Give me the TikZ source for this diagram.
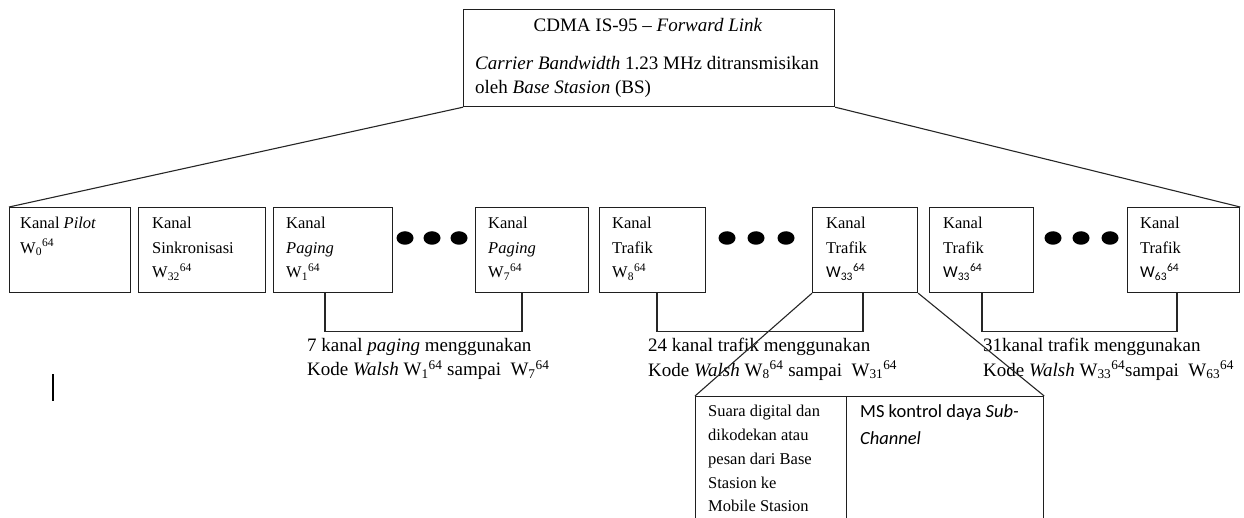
\documentclass[tikz,border=0pt]{standalone}
\usepackage{fontspec}
\setmainfont{Liberation Serif}
\newfontfamily\calib{Carlito}
\usetikzlibrary{shapes.geometric}
\newcommand{\Wc}[2]{W\textsubscript{#1}\textsuperscript{#2}}
\tikzset{
  box/.style={draw=black!88, line width=1.2pt, inner sep=0pt, anchor=north west},
  conn/.style={draw=black!85, line width=1.1pt},
  boxtxt/.style={inner sep=0pt, anchor=north west, align=left, font=\fontsize{16.5}{24.5}\selectfont},
  bigtxt/.style={inner sep=0pt, align=left, font=\fontsize{19}{24.5}\selectfont},
  subtxt/.style={inner sep=0pt, anchor=north west, align=left, font=\fontsize{16.5}{23.8}\selectfont},
  dotn/.style={ellipse, fill=black, draw=none, inner sep=0pt, minimum width=17pt, minimum height=13.5pt},
}
\begin{document}
\begin{tikzpicture}[x=1pt,y=-1pt]
\useasboundingbox (0,0) rectangle (1244,518);
\clip (0,0) rectangle (1244,518);

% head box
\node[box, minimum width=371pt, minimum height=97pt] (top) at (463,9) {};
\node[bigtxt, anchor=base] (toptitle) at (648,32) {CDMA IS-95 -- \textit{Forward Link}};
\node[bigtxt, anchor=north west] (toptext) at (475,56) {\textit{Carrier Bandwidth} 1.23 MHz ditransmisikan\\oleh \textit{Base Stasion} (BS)};

% channel boxes
\node[box, minimum width=121pt, minimum height=85pt] (p1)  at (9,207) {};
\node[box, minimum width=127pt, minimum height=85pt] (sk)  at (138,207) {};
\node[box, minimum width=119pt, minimum height=85pt] (pg1) at (273,207) {};
\node[box, minimum width=113pt, minimum height=85pt] (pg7) at (475,207) {};
\node[box, minimum width=106pt, minimum height=85pt] (t1)  at (599,207) {};
\node[box, minimum width=105pt, minimum height=85pt] (t2)  at (812,207) {};
\node[box, minimum width=104pt, minimum height=85pt] (t3)  at (929,207) {};
\node[box, minimum width=112pt, minimum height=85pt] (t4)  at (1127,207) {};

\node[boxtxt] (p1t)  at (20,217)  {Kanal \textit{Pilot}\\\Wc{0}{64}};
\node[boxtxt] (skt)  at (152,217) {Kanal\\Sinkronisasi\\\Wc{32}{64}};
\node[boxtxt] (pg1t) at (286,217) {Kanal\\\textit{Paging}\\\Wc{1}{64}};
\node[boxtxt] (pg7t) at (488,217) {Kanal\\\textit{Paging}\\\Wc{7}{64}};
\node[boxtxt] (t1t)  at (612,217) {Kanal\\Trafik\\\Wc{8}{64}};
\node[boxtxt] (t2t)  at (826,217) {Kanal\\Trafik\\{\calib\Wc{33}{64}}};
\node[boxtxt] (t3t)  at (943,217) {Kanal\\Trafik\\{\calib\Wc{33}{64}}};
\node[boxtxt] (t4t)  at (1140,217) {Kanal\\Trafik\\{\calib\Wc{63}{64}}};

% ellipsis dots
\node[dotn] (da1) at (405,238) {};
\node[dotn] (da2) at (432,238) {};
\node[dotn] (da3) at (459,238) {};
\node[dotn] (db1) at (727,238) {};
\node[dotn] (db2) at (756,238) {};
\node[dotn] (db3) at (786,238) {};
\node[dotn] (dc1) at (1053,238) {};
\node[dotn] (dc2) at (1081,238) {};
\node[dotn] (dc3) at (1110,238) {};

% fan-out from the head box
\draw[conn] (top.south west) -- (p1.north west);
\draw[conn] (top.south east) -- (t4.north east);

% group brackets
\coordinate (b1a) at ([xshift=52pt]pg1.south west);
\coordinate (b1b) at ([xshift=47pt]pg7.south west);
\coordinate (b2a) at ([xshift=58pt]t1.south west);
\coordinate (b2b) at ([xshift=51pt]t2.south west);
\coordinate (b3a) at ([xshift=53pt]t3.south west);
\coordinate (b3b) at ([xshift=50pt]t4.south west);
\draw[conn] (b1a) -- ++(0,38) -| (b1b);
\draw[conn] (b2a) -- ++(0,38) -| (b2b);
\draw[conn] (b3a) -- ++(0,38) -| (b3b);

% group labels
\node[bigtxt, anchor=north west] (lab1) at (307,338) {7 kanal \textit{paging} menggunakan\\Kode \textit{Walsh} \Wc{1}{64} sampai\ \ \Wc{7}{64}};
\node[bigtxt, anchor=north west] (lab2) at (648,338) {24 kanal trafik menggunakan\\Kode \textit{Walsh} \Wc{8}{64} sampai\ \ \Wc{31}{64}};
\node[bigtxt, anchor=north west] (lab3) at (983,338) {31kanal trafik menggunakan\\Kode \textit{Walsh} \Wc{33}{64}sampai\ \ \Wc{63}{64}};

% detail of one traffic channel
\node[box, minimum width=151pt, minimum height=150pt] (subl) at (695,396) {};
\node[box, minimum width=197pt, minimum height=150pt] (subr) at (846,396) {};
\draw[conn] (t2.south west) -- (subl.north west);
\draw[conn] (t2.south east) -- (subr.north east);
\node[subtxt] (sublt) at (708,405) {Suara digital dan\\dikodekan atau\\pesan dari Base\\Stasion ke\\Mobile Stasion};
\node[subtxt, font=\calib\fontsize{18.5}{27}\selectfont] (subrt) at (860,404) {MS kontrol daya \textit{Sub-}\\\textit{Channel}};

% text cursor mark
\draw[line width=2.5pt] (53,374) -- (53,401);
\end{tikzpicture}
\end{document}
